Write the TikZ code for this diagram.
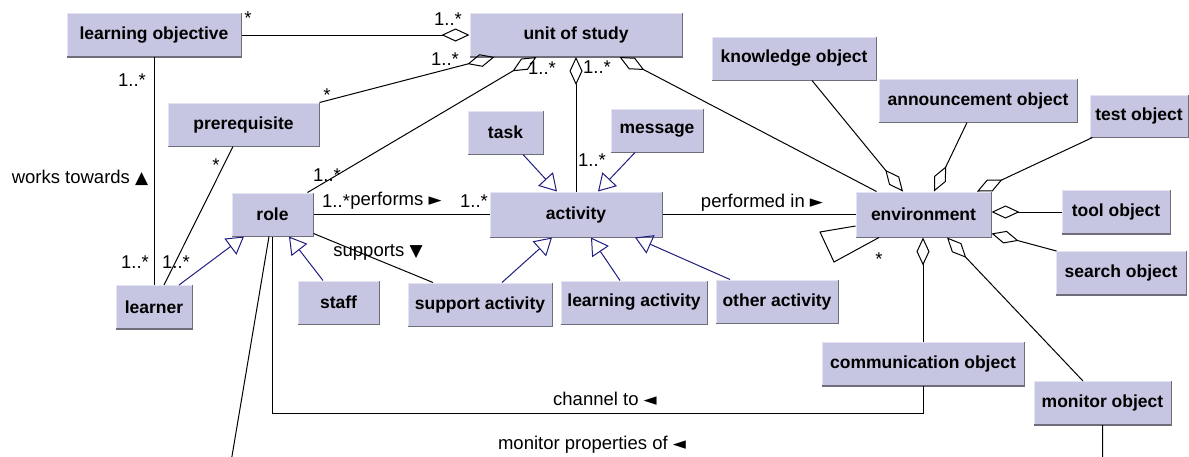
\documentclass[tikz,border=0pt]{standalone}
\usepackage{fontspec}
\setmainfont{Liberation Sans}
\newfontfamily\symfont{DejaVu Sans}
\usetikzlibrary{arrows.meta,calc,positioning}
\definecolor{boxfill}{RGB}{198,198,226}
\definecolor{boxlight}{RGB}{228,228,242}
\definecolor{boxdark}{RGB}{110,110,122}
\definecolor{genblue}{RGB}{30,30,128}
\newcommand{\tri}[1]{{\symfont\fontsize{17}{17}\selectfont #1}}
\tikzset{%
	cls/.style   = {draw=boxlight, fill=boxfill, line width=1pt, inner sep=0pt, minimum height=43pt, font=\bfseries\fontsize{17.5}{20}\selectfont},
	mult/.style  = {inner sep=0pt, font=\fontsize{18.5}{20}\selectfont},
	conn/.style  = {line width=1pt},
	agg/.style   = {line width=1pt, -{Diamond[open,length=28pt,width=13pt]}},
	gen/.style   = {genblue, line width=1pt, -{Triangle[open,length=17pt,width=20pt]}},
}

\begin{document}
\begin{tikzpicture}[x=1pt,y=-1pt]
		\useasboundingbox (0,0) rectangle (1189,456);
		\clip (0,0) rectangle (1189,456);
		% classes
		\node[cls, minimum width=174pt] (lo) at (154,35) {learning objective};
		\node[cls, minimum width=212pt] (uos) at (576,35) {unit of study};
		\node[cls, minimum width=164pt] (know) at (794,58.5) {knowledge object};
		\node[cls, minimum width=198pt] (ann) at (978,100.5) {announcement object};
		\node[cls, minimum width=98pt, minimum height=42pt] (test) at (1139,116) {test object};
		\node[cls, minimum width=135pt, minimum height=45pt] (env) at (923.5,214.5) {environment};
		\node[cls, minimum width=108pt] (tool) at (1116,212) {tool object};
		\node[cls, minimum width=130pt] (search) at (1121,273) {search object};
		\node[cls, minimum width=202pt] (comm) at (923,364) {communication object};
		\node[cls, minimum width=137pt] (mon) at (1102.5,403) {monitor object};
		\node[cls, minimum width=172pt, minimum height=45pt] (act) at (576,214.5) {activity};
		\node[cls, minimum width=75pt] (task) at (505.5,132.5) {task};
		\node[cls, minimum width=92pt] (msg) at (657,130.5) {message};
		\node[cls, minimum width=151pt] (pre) at (243.5,124.5) {prerequisite};
		\node[cls, minimum width=81pt] (role) at (272.5,214.5) {role};
		\node[cls, minimum width=76pt] (learner) at (154,307) {learner};
		\node[cls, minimum width=81pt] (staff) at (338.5,302.5) {staff};
		\node[cls, minimum width=144pt] (sup) at (480,304.5) {support activity};
		\node[cls, minimum width=146pt] (lact) at (634,302.5) {learning activity};
		\node[cls, minimum width=122pt] (oth) at (777,301.5) {other activity};
		\foreach \c in {lo,uos,know,ann,test,env,tool,search,comm,mon,act,task,msg,pre,role,learner,staff,sup,lact,oth}
			\draw[boxdark, line width=1.5pt] (\c.south west) -| (\c.north east);
		% aggregations
		\draw[agg] (lo.east) -- (uos.west);
		\draw[agg] (pre.north east) -- ([xshift=25pt]uos.south west);
		\draw[agg] ([xshift=-6pt]role.north east) -- ([xshift=67pt]uos.south west);
		\draw[agg] (act.north) -- (uos.south);
		\draw[agg] ([xshift=21pt]env.north west) -- ([xshift=150pt]uos.south west);
		\draw[agg] ([xshift=18pt]know.south) -- ([xshift=-20.5pt]env.north);
		\draw[agg] ([xshift=-11pt]ann.south) -- ([xshift=10.5pt]env.north);
		\draw[agg] ([xshift=3pt]test.south west) -- ([xshift=53.5pt]env.north);
		\draw[agg] (tool.west) -- (tool.west -| env.east);
		\draw[agg] ([xshift=1pt]search.north west) -- ([yshift=4pt]env.south east);
		\draw[agg] (comm.north) -- (comm.north |- env.south);
		\draw[agg] ([xshift=-19.5pt]mon.north) -- ([xshift=23.5pt]env.south);
		% generalizations
		\draw[gen] ([xshift=17.5pt]task.south) -- ([xshift=-19pt]act.north);
		\draw[gen] ([xshift=-22pt]msg.south) -- ([xshift=22pt]act.north);
		\draw[gen] ([xshift=22pt]sup.north) -- ([xshift=-24pt]act.south);
		\draw[gen] ([xshift=-14pt]lact.north) -- ([xshift=15pt]act.south);
		\draw[gen] ([xshift=-47pt]oth.north) -- ([xshift=59pt]act.south);
		\draw[gen] ([xshift=-15.5pt]staff.north) -- ([xshift=16.5pt]role.south);
		\draw[gen] ([xshift=25pt]learner.north) -- ([xshift=-28.5pt]role.south);
		% associations
		\draw[conn] (lo.south) -- (learner.north);
		\draw[conn] ([xshift=-10.5pt]pre.south) -- ([xshift=10pt]learner.north);
		\draw[conn] (role.east) -- (act.west);
		\draw[conn] (act.east) -- (env.west);
		\draw[conn] ([yshift=3pt]role.south east) -- ([xshift=-47pt]sup.north);
		\coordinate (loopa) at (820,232);
		\coordinate (loopb) at (834,262);
		\draw[conn] ([yshift=-11.5pt]env.west) -- (loopa) -- (loopb) -- ([xshift=-44.5pt]env.south);
		\coordinate (chan) at (923,413);
		\draw[conn] (role.south) |- (chan) -- (comm.south);
		\coordinate (mona) at (230,468);
		\coordinate (monb) at (1102.5,468);
		\draw[conn] ([xshift=-3.5pt]role.south) -- (mona) -- (monb) -- (mon.south);
		% multiplicities
		\node[mult] (m1) at (248,18) {*};
		\node[mult] (m2) at (448,19) {1..*};
		\node[mult] (m3) at (132,80) {1..*};
		\node[mult] (m4) at (135,262) {1..*};
		\node[mult] (m5) at (176,262) {1..*};
		\node[mult] (m6) at (216,165) {*};
		\node[mult] (m7) at (327,95) {*};
		\node[mult] (m8) at (445,59) {1..*};
		\node[mult] (m9) at (327,175) {1..*};
		\node[mult] (m10) at (542,68) {1..*};
		\node[mult] (m11) at (592,160) {1..*};
		\node[mult] (m12) at (597,67) {1..*};
		\node[mult, anchor=west] (m13) at (322,201) {1..*};
		\node[mult] (m14) at (474,201) {1..*};
		\node[mult] (m15) at (879,259) {*};
		% association names
		\node[mult] (works) at (80,178) {works towards \tri{▲}};
		\node[mult, anchor=west] (performs) at (m13.east) {performs \tri{►}};
		\node[mult] (perfin) at (762,203) {performed in \tri{►}};
		\node[mult] (supports) at (378,252) {supports \tri{▼}};
		\node[mult] (channel) at (605,399) {channel to \tri{◄}};
		\node[mult] (monprop) at (592,445) {monitor properties of \tri{◄}};
	\end{tikzpicture}
\end{document}
